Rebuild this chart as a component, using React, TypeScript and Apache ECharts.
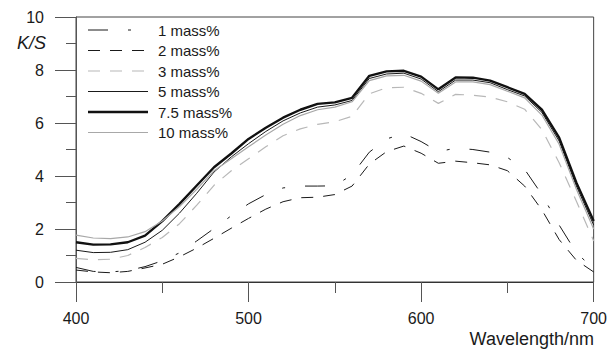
import React, { useEffect, useRef } from "react";
import * as echarts from "echarts";

const wavelengths = [400, 410, 420, 430, 440, 450, 460, 470, 480, 490, 500, 510, 520, 530, 540, 550, 560, 570, 580, 590, 600, 610, 620, 630, 640, 650, 660, 670, 680, 690, 700];

const seriesNames = ["1 mass%", "2 mass%", "3 mass%", "5 mass%", "7.5 mass%", "10 mass%"];

const ks1 = [0.55, 0.4, 0.38, 0.43, 0.58, 0.8, 1.1, 1.55, 2.02, 2.5, 2.95, 3.3, 3.55, 3.62, 3.62, 3.63, 4.05, 4.9, 5.4, 5.6, 5.3, 4.92, 5.05, 5.0, 4.9, 4.7, 4.25, 3.3, 2.15, 1.1, 0.5];
const ks2 = [0.45, 0.38, 0.35, 0.4, 0.53, 0.67, 0.95, 1.28, 1.65, 2.03, 2.4, 2.75, 3.03, 3.18, 3.2, 3.3, 3.62, 4.45, 4.92, 5.13, 4.86, 4.48, 4.56, 4.5, 4.42, 4.2, 3.62, 2.72, 1.6, 0.82, 0.38];
const ks3 = [0.89, 0.84, 0.86, 1.0, 1.3, 1.68, 2.2, 2.9, 3.65, 4.2, 4.65, 5.1, 5.52, 5.78, 5.95, 6.05, 6.25, 7.1, 7.33, 7.35, 7.12, 6.74, 7.08, 7.05, 6.98, 6.8, 6.52, 5.75, 4.5, 3.05, 1.55];
const ks5 = [1.2, 1.11, 1.12, 1.22, 1.5, 1.95, 2.6, 3.35, 4.15, 4.72, 5.22, 5.68, 6.08, 6.38, 6.6, 6.68, 6.85, 7.68, 7.85, 7.88, 7.66, 7.18, 7.62, 7.62, 7.52, 7.26, 7.02, 6.4, 5.32, 3.62, 2.15];
const ks75 = [1.5, 1.41, 1.42, 1.5, 1.75, 2.3, 2.95, 3.64, 4.33, 4.85, 5.4, 5.82, 6.2, 6.5, 6.72, 6.78, 6.95, 7.78, 7.95, 7.97, 7.75, 7.27, 7.72, 7.71, 7.6, 7.35, 7.1, 6.5, 5.45, 3.75, 2.3];
const ks10 = [1.77, 1.66, 1.64, 1.7, 1.9, 2.3, 2.85, 3.5, 4.2, 4.65, 5.1, 5.55, 5.95, 6.28, 6.5, 6.6, 6.8, 7.6, 7.78, 7.8, 7.58, 7.12, 7.55, 7.55, 7.45, 7.2, 6.95, 6.3, 5.2, 3.5, 2.0];

const xTicks = [400, 500, 600, 700];
const yTicks = [0, 2, 4, 6, 8, 10];

const FONT = "'Liberation Sans', Arial, Helvetica, sans-serif";

export default function App() {
  const ref = useRef<HTMLDivElement>(null);

  useEffect(() => {
    if (!ref.current) return;
    const chart = echarts.init(ref.current, undefined, { renderer: "svg" });

    const values = [ks1, ks2, ks3, ks5, ks75, ks10];
    const styles = [
      { color: "#1a1a1a", width: 1, dash: [20, 20, 3, 20] as number[] | null },
      { color: "#1a1a1a", width: 1, dash: [12, 10] },
      { color: "#b8b8b8", width: 1.2, dash: [12, 10] },
      { color: "#1a1a1a", width: 1, dash: null },
      { color: "#111111", width: 2.4, dash: null },
      { color: "#a8a8a8", width: 1.2, dash: null },
    ];

    const series = seriesNames.map((name, i) => ({
      name,
      type: "line",
      symbol: "none",
      showSymbol: false,
      silent: true,
      data: wavelengths.map((w, j) => [w, values[i][j]]),
      lineStyle: {
        color: styles[i].color,
        width: styles[i].width,
        type: (styles[i].dash ? styles[i].dash : "solid") as any,
      },
      itemStyle: { color: styles[i].color },
      z: 2 + i,
    }));

    // manual legend (lines + labels) in the upper-left of the plot
    const legendX = 88;
    const legendLineW = 60;
    const legendTop = 30;
    const legendStep = 20.5;
    const legendGraphics: any[] = [];
    seriesNames.forEach((name, i) => {
      const y = legendTop + i * legendStep;
      const st: any = { stroke: styles[i].color, lineWidth: styles[i].width };
      if (styles[i].dash) st.lineDash = styles[i].dash;
      legendGraphics.push({
        type: "line",
        silent: true,
        shape: { x1: legendX, y1: y, x2: legendX + legendLineW, y2: y },
        style: st,
        z: 10,
      });
      legendGraphics.push({
        type: "text",
        silent: true,
        x: legendX + legendLineW + 10,
        y: y,
        style: {
          text: name,
          font: "15px " + FONT,
          fill: "#1a1a1a",
          verticalAlign: "middle",
          align: "left",
        },
        z: 10,
      });
    });

    chart.setOption({
      animation: false,
      backgroundColor: "#ffffff",
      grid: {
        left: 76,
        right: 14,
        top: 17,
        bottom: 69,
        show: true,
        borderColor: "#444",
        borderWidth: 1,
        backgroundColor: "transparent",
      },
      xAxis: {
        type: "value",
        min: xTicks[0],
        max: xTicks[xTicks.length - 1],
        interval: 100,
        axisLine: { show: true, lineStyle: { color: "#333", width: 1 } },
        axisTick: { show: true, inside: false, length: 20, lineStyle: { color: "#555", width: 1 } },
        minorTick: { show: true, splitNumber: 2, length: 11, lineStyle: { color: "#555", width: 1 } },
        splitLine: { show: false },
        minorSplitLine: { show: false },
        axisLabel: { fontFamily: FONT, fontSize: 16, color: "#1a1a1a", margin: 28 },
      },
      yAxis: {
        type: "value",
        min: yTicks[0],
        max: yTicks[yTicks.length - 1],
        interval: 2,
        axisLine: { show: true, lineStyle: { color: "#555", width: 1 } },
        axisTick: { show: true, inside: false, length: 21, lineStyle: { color: "#555", width: 1 } },
        minorTick: { show: true, splitNumber: 2, length: 10, lineStyle: { color: "#555", width: 1 } },
        splitLine: { show: false },
        minorSplitLine: { show: false },
        axisLabel: { fontFamily: FONT, fontSize: 16, color: "#1a1a1a", margin: 32 },
      },
      graphic: [
        {
          type: "text",
          silent: true,
          x: 46,
          y: 43,
          style: {
            text: "K/S",
            font: "italic 18px " + FONT,
            fill: "#1a1a1a",
            align: "right",
            verticalAlign: "middle",
          },
        },
        {
          type: "text",
          silent: true,
          x: 594,
          y: 339,
          style: {
            text: "Wavelength/nm",
            font: "18px " + FONT,
            fill: "#1a1a1a",
            align: "right",
            verticalAlign: "middle",
          },
        },
        ...legendGraphics,
      ],
      series,
    });

    return () => chart.dispose();
  }, []);

  return (
    <div
      ref={ref}
      style={{ position: "fixed", left: 0, top: 0, width: 610, height: 351, background: "#fff" }}
    />
  );
}
